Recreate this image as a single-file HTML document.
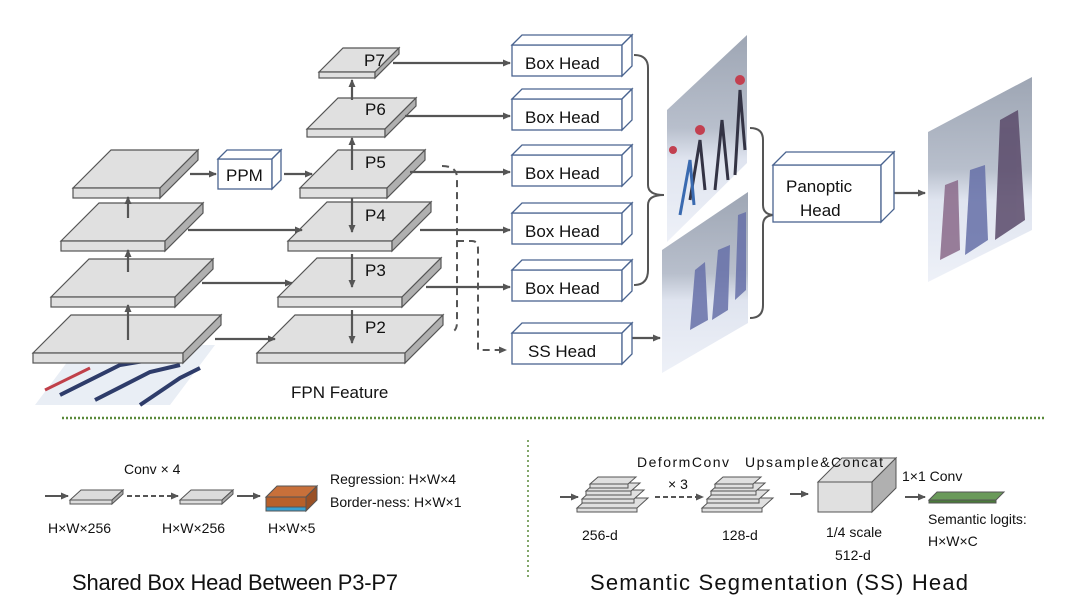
<!DOCTYPE html>
<html><head><meta charset="utf-8"><style>
html,body{margin:0;padding:0;background:#fff;}
svg{display:block;font-family:"Liberation Sans",sans-serif;}
</style></head><body>
<svg width="1080" height="611" viewBox="0 0 1080 611" xmlns="http://www.w3.org/2000/svg">
<defs>
<marker id="ah" markerWidth="8" markerHeight="8" refX="7" refY="4" orient="auto" markerUnits="userSpaceOnUse"><path d="M0,0.5 L8,4 L0,7.5 z" fill="#555"/></marker>
<g id="box"><rect x="0" y="10" width="110" height="31" fill="#fff" stroke="#4a6490" stroke-width="1.3"/><polygon points="0,10 10,0 120,0 110,10" fill="#fff" stroke="#4a6490" stroke-width="1.3"/><polygon points="110,10 120,0 120,31 110,41" fill="#fff" stroke="#4a6490" stroke-width="1.3"/></g>
<linearGradient id="img" x1="0" y1="0" x2="0" y2="1"><stop offset="0" stop-color="#9ea6b4"/><stop offset="0.45" stop-color="#b8bfcc"/><stop offset="0.6" stop-color="#dfe4ef"/><stop offset="1" stop-color="#eef1f8"/></linearGradient>
</defs>
<g fill="#e0e0e0" stroke="#555" stroke-width="1.2">
<polygon points="35,405 80,345 215,345 170,405" fill="#e9eef5" stroke="none"/>
<path d="M60,395 L120,365 L150,360 M95,400 L150,372 L180,365 M140,405 L180,378 L200,368" stroke="#2e3c6a" stroke-width="4" fill="none"/>
<path d="M45,390 L90,368" stroke="#c0404a" stroke-width="3" fill="none"/>
<polygon points="33,353 71,315 221,315 183,353"/><rect x="33" y="353" width="150" height="10"/><polygon points="183,353 221,315 221,325 183,363" fill="#b0b0b0"/>
<polygon points="51,297 89,259 213,259 175,297"/><rect x="51" y="297" width="124" height="10"/><polygon points="175,297 213,259 213,269 175,307" fill="#b0b0b0"/>
<polygon points="61,241 99,203 203,203 165,241"/><rect x="61" y="241" width="104" height="10"/><polygon points="165,241 203,203 203,213 165,251" fill="#b0b0b0"/>
<polygon points="73,188 111,150 198,150 160,188"/><rect x="73" y="188" width="87" height="10"/><polygon points="160,188 198,150 198,160 160,198" fill="#b0b0b0"/>
<polygon points="257,353 295,315 443,315 405,353"/><rect x="257" y="353" width="148" height="10"/><polygon points="405,353 443,315 443,325 405,363" fill="#b0b0b0"/>
<polygon points="278,297 317,258 441,258 402,297"/><rect x="278" y="297" width="124" height="10"/><polygon points="402,297 441,258 441,268 402,307" fill="#b0b0b0"/>
<polygon points="288,241 327,202 431,202 392,241"/><rect x="288" y="241" width="104" height="10"/><polygon points="392,241 431,202 431,212 392,251" fill="#b0b0b0"/>
<polygon points="300,188 338,150 425,150 387,188"/><rect x="300" y="188" width="87" height="10"/><polygon points="387,188 425,150 425,160 387,198" fill="#b0b0b0"/>
<polygon points="307,129 338,98 416,98 385,129"/><rect x="307" y="129" width="78" height="8"/><polygon points="385,129 416,98 416,106 385,137" fill="#b0b0b0"/>
<polygon points="319,72 343,48 399,48 375,72"/><rect x="319" y="72" width="56" height="6"/><polygon points="375,72 399,48 399,54 375,78" fill="#b0b0b0"/>
</g>
<g stroke="#4a6490" stroke-width="1.3" fill="#fff">
<rect x="218" y="159" width="54" height="30"/><polygon points="218,159 227,150 281,150 272,159"/><polygon points="272,159 281,150 281,180 272,189"/>
</g>
<g stroke="#555" stroke-width="2.2" fill="none" marker-end="url(#ah)">
<line x1="128" y1="340" x2="128" y2="305"/>
<line x1="128" y1="272" x2="128" y2="250"/>
<line x1="128" y1="218" x2="128" y2="197"/>
<line x1="352" y1="170" x2="352" y2="138"/>
<line x1="352" y1="100" x2="352" y2="80"/>
<line x1="352" y1="198" x2="352" y2="232"/>
<line x1="352" y1="254" x2="352" y2="287"/>
<line x1="352" y1="310" x2="352" y2="343"/>
<line x1="190" y1="174" x2="216" y2="174"/>
<line x1="284" y1="174" x2="312" y2="174"/>
<line x1="188" y1="230" x2="302" y2="230"/>
<line x1="202" y1="283" x2="292" y2="283"/>
<line x1="215" y1="339" x2="275" y2="339"/>
<line x1="393" y1="63" x2="510" y2="63"/>
<line x1="405" y1="116" x2="510" y2="116"/>
<line x1="410" y1="172" x2="510" y2="172"/>
<line x1="420" y1="230" x2="510" y2="230"/>
<line x1="426" y1="287" x2="510" y2="287"/>
<line x1="632" y1="338" x2="660" y2="338"/>
<line x1="893" y1="193" x2="925" y2="193"/>
</g>
<g stroke="#555" stroke-width="2" fill="none" stroke-dasharray="7,5">
<path d="M442,166 Q457,166 457,178 L457,322 Q457,332 450,332"/>
<path d="M457,241 L472,241 Q478,241 478,249 L478,350 L506,350" marker-end="url(#ah)"/>
</g>
<use href="#box" x="512" y="35"/>
<use href="#box" x="512" y="89"/>
<use href="#box" x="512" y="145"/>
<use href="#box" x="512" y="203"/>
<use href="#box" x="512" y="260"/>
<use href="#box" x="512" y="323"/>
<g stroke="#555" stroke-width="2" fill="none">
<path d="M634,55 Q648,55 648,68 L648,185 Q648,195 664,195 Q648,195 648,205 L648,270 Q648,285 634,285"/>
<path d="M750,128 Q763,128 763,140 L763,205 Q763,215 775,215 Q763,215 763,225 L763,305 Q763,318 750,318"/>
</g>
<polygon points="667,110 747,35 747,163 667,242" fill="url(#img)"/>
<g stroke="#334" stroke-width="3" fill="none"><path d="M690,200 L700,140 L705,190 M715,190 L722,120 L728,180 M735,175 L740,90 L745,150"/></g>
<g stroke="#3a6ab0" stroke-width="3" fill="none"><path d="M680,215 L690,160 L694,205"/></g>
<g fill="#c24050"><circle cx="700" cy="130" r="5"/><circle cx="740" cy="80" r="5"/><circle cx="673" cy="150" r="4"/></g>
<polygon points="662,250 748,192 748,323 662,373" fill="url(#img)"/>
<g fill="#6670a8" opacity="0.85"><path d="M690,330 L695,270 L705,262 L708,320 Z M712,320 L718,250 L730,245 L728,310 Z M735,300 L738,215 L746,212 L746,290 Z"/></g>
<polygon points="928,132 1032,77 1032,230 928,282" fill="url(#img)"/>
<g opacity="0.85"><path d="M940,260 L945,185 L958,180 L960,250 Z" fill="#8a6a8a"/><path d="M965,255 L970,170 L985,165 L988,240 Z" fill="#6670a8"/><path d="M995,240 L1000,120 L1018,110 L1025,220 Z" fill="#5a4a6a"/></g>
<g stroke="#4a6490" stroke-width="1.3" fill="#fff">
<rect x="773" y="165" width="108" height="57"/><polygon points="773,165 786,152 894,152 881,165"/><polygon points="881,165 894,152 894,209 881,222"/>
</g>
<g font-size="17" fill="#111">
<text x="364" y="66">P7</text><text x="365" y="115">P6</text><text x="365" y="168">P5</text><text x="365" y="221">P4</text><text x="365" y="276">P3</text><text x="365" y="333">P2</text>
<text x="226" y="181">PPM</text>
<text x="525" y="69">Box Head</text><text x="525" y="123">Box Head</text><text x="525" y="179">Box Head</text><text x="525" y="237">Box Head</text><text x="525" y="294">Box Head</text><text x="528" y="357">SS Head</text>
<text x="786" y="192">Panoptic</text><text x="800" y="216">Head</text>
<text x="291" y="398">FPN Feature</text>
</g>
<line x1="62" y1="418" x2="1045" y2="418" stroke="#5a8a3a" stroke-width="2.5" stroke-dasharray="2,2"/>
<line x1="528" y1="440" x2="528" y2="580" stroke="#5a8a3a" stroke-width="1.5" stroke-dasharray="2,3"/>
<g stroke="#555" stroke-width="1" fill="#dcdcdc">
<polygon points="70,500 81,490 123,490 112,500"/><rect x="70" y="500" width="42" height="4"/><polygon points="112,500 123,490 123,494 112,504" fill="#aaa"/>
<polygon points="180,500 191,490 233,490 222,500"/><rect x="180" y="500" width="42" height="4"/><polygon points="222,500 233,490 233,494 222,504" fill="#aaa"/>
<polygon points="266,497 277,486 317,486 306,497" fill="#c8703a"/><rect x="266" y="497" width="40" height="10" fill="#b8602a"/><rect x="266" y="507" width="40" height="4" fill="#3aa0d0"/><polygon points="306,497 317,486 317,500 306,511" fill="#9a5025"/>
</g>
<g stroke="#555" stroke-width="2" fill="none" marker-end="url(#ah)">
<line x1="45" y1="496" x2="68" y2="496"/>
<line x1="127" y1="496" x2="178" y2="496" stroke-dasharray="5,3"/>
<line x1="237" y1="496" x2="260" y2="496"/>
<line x1="560" y1="497" x2="578" y2="497"/>
<line x1="655" y1="497" x2="703" y2="497" stroke-dasharray="5,3"/>
<line x1="790" y1="494" x2="808" y2="494"/>
<line x1="905" y1="497" x2="925" y2="497"/>
</g>
<g stroke="#555" stroke-width="1" fill="#e0e0e0">
<polygon points="577,508 588,498 648,498 637,508"/><rect x="577" y="508" width="60" height="4"/>
<polygon points="582,499 592,490 644,490 634,499"/><rect x="582" y="499" width="52" height="4"/>
<polygon points="586,491 595,483 640,483 631,491"/><rect x="586" y="491" width="45" height="4"/>
<polygon points="590,484 598,477 636,477 628,484"/><rect x="590" y="484" width="38" height="4"/>
<polygon points="702,508 713,498 773,498 762,508"/><rect x="702" y="508" width="60" height="4"/>
<polygon points="707,499 717,490 769,490 759,499"/><rect x="707" y="499" width="52" height="4"/>
<polygon points="711,491 720,483 765,483 756,491"/><rect x="711" y="491" width="45" height="4"/>
<polygon points="715,484 723,477 761,477 753,484"/><rect x="715" y="484" width="38" height="4"/>
<polygon points="818,482 842,458 896,458 872,482"/><rect x="818" y="482" width="54" height="30"/><polygon points="872,482 896,458 896,488 872,512" fill="#b0b0b0"/>
<polygon points="929,500 937,492 1004,492 996,500" fill="#6a9a5a"/><rect x="929" y="500" width="67" height="3" fill="#4a7a3a"/>
</g>
<g font-size="14" fill="#111">
<text x="124" y="474">Conv × 4</text>
<text x="330" y="484">Regression: H×W×4</text>
<text x="330" y="507">Border-ness: H×W×1</text>
<text x="48" y="533">H×W×256</text><text x="162" y="533">H×W×256</text><text x="268" y="533">H×W×5</text>
<text x="637" y="467" textLength="92">DeformConv</text><text x="668" y="489">× 3</text>
<text x="745" y="467" textLength="138">Upsample&amp;Concat</text>
<text x="902" y="481">1×1 Conv</text>
<text x="582" y="540">256-d</text><text x="722" y="540">128-d</text>
<text x="826" y="537">1/4 scale</text><text x="835" y="560">512-d</text>
<text x="928" y="524">Semantic logits:</text><text x="928" y="546">H×W×C</text>
</g>
<g font-size="22" fill="#111">
<text x="72" y="590" textLength="326">Shared Box Head Between P3-P7</text>
<text x="590" y="590" textLength="378">Semantic Segmentation (SS) Head</text>
</g>
</svg>
</body></html>
